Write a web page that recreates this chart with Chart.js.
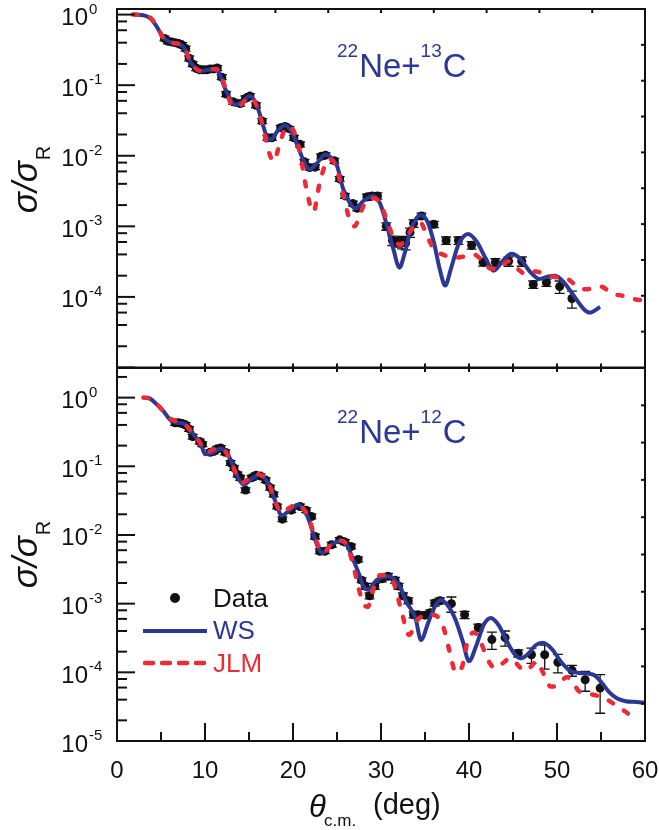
<!DOCTYPE html>
<html>
<head>
<meta charset="utf-8">
<script src="https://cdn.jsdelivr.net/npm/chart.js@4"></script>
<style>
  body { margin: 0; background: #fff; }
  #wrap { position: relative; width: 659px; height: 830px; }
  #wrap canvas { position: absolute; left: 0; }
</style>
</head>
<body>
<div id="wrap">
  <canvas id="topPanel" width="659" height="372" style="top:0"></canvas>
  <canvas id="bottomPanel" width="659" height="470" style="top:360px"></canvas>
</div>
<script>
// 22Ne + 13C angular distribution (upper panel)
const wsTopAngle = [2.0, 3.0, 3.8, 4.5, 5.2, 6.0, 6.8, 7.6, 8.2, 8.8, 9.5, 10.3, 11.0, 11.6, 12.2, 12.8, 13.4, 14.2, 15.1, 15.8,
  16.4, 17.0, 17.5, 18.2, 19.1, 19.9, 20.6, 21.2, 21.9, 22.7, 23.7, 24.4, 25.0, 25.7, 26.4, 27.1, 28.0, 29.1, 29.9, 30.6,
  31.4, 32.1, 32.7, 33.4, 34.5, 35.3, 36.0, 36.7, 37.3, 37.9, 38.8, 39.9, 40.9, 41.9, 42.8, 43.8, 44.8, 45.8, 46.9, 48.0,
  49.0, 49.8, 50.8, 52.0, 53.0, 53.7, 54.9];
const wsTopValue = [1.0, 0.98, 0.88, 0.68, 0.48, 0.41, 0.39, 0.34, 0.23, 0.18, 0.16, 0.165, 0.17, 0.15, 0.095, 0.066, 0.053, 0.058, 0.07, 0.055,
  0.033, 0.019, 0.017, 0.022, 0.027, 0.021, 0.013, 0.0085, 0.0064, 0.0078, 0.0104, 0.0092, 0.0072, 0.0034, 0.0022, 0.0018, 0.0023, 0.0027, 0.0021, 0.0011,
  4.8e-4, 2.6e-4, 4.2e-4, 9.0e-4, 1.45e-3, 1.15e-3, 6.0e-4, 2.4e-4, 1.45e-4, 2.4e-4, 5.5e-4, 7.8e-4, 6.0e-4, 3.5e-4, 2.35e-4, 3.2e-4, 4.1e-4, 3.5e-4, 2.3e-4, 1.8e-4,
  1.95e-4, 2.0e-4, 1.6e-4, 1.0e-4, 6.8e-5, 6.0e-5, 7.2e-5];

const jlmTopAngle = [1.8, 3.0, 3.8, 4.5, 5.2, 6.0, 6.8, 7.6, 8.2, 8.8, 9.5, 10.5, 11.3, 12.0, 12.6, 13.2, 14.0, 15.1, 15.9, 16.6,
  17.2, 17.8, 18.5, 19.3, 20.1, 20.8, 21.5, 22.3, 23.1, 24.1, 24.9, 25.7, 26.4, 27.0, 27.7, 28.5, 29.2, 30.0, 30.8, 31.5,
  32.2, 33.0, 34.4, 35.4, 36.2, 37.0, 38.3, 39.3, 40.5, 41.5, 42.5, 43.3, 44.5, 45.5, 46.5, 47.6, 49.0, 50.0, 51.2, 52.5,
  53.3, 55.0, 56.3, 57.3, 58.8, 60.0];
const jlmTopValue = [1.0, 0.99, 0.9, 0.7, 0.48, 0.40, 0.39, 0.35, 0.24, 0.18, 0.16, 0.165, 0.17, 0.12, 0.07, 0.05, 0.052, 0.068, 0.05, 0.025,
  0.012, 0.0083, 0.015, 0.026, 0.022, 0.011, 0.0035, 0.0016, 0.0045, 0.009, 0.007, 0.0028, 0.0013, 0.001, 0.0016, 0.0024, 0.0025, 0.002, 1.1e-3, 6.5e-4,
  5.5e-4, 7.5e-4, 1.15e-3, 6.5e-4, 4.5e-4, 4.0e-4, 3.6e-4, 3.7e-4, 4.0e-4, 3.3e-4, 2.5e-4, 2.5e-4, 3.2e-4, 2.5e-4, 2.1e-4, 2.3e-4, 2.0e-4, 1.9e-4, 1.8e-4, 1.35e-4,
  1.28e-4, 1.4e-4, 1.1e-4, 1.05e-4, 9.3e-5, 8.8e-5];

const dataTopAngle = [5.4, 5.8, 6.2, 6.6, 7.0, 7.4, 7.8, 8.2, 8.6, 9.0, 9.4, 9.8, 10.2, 10.6, 11.0, 11.4, 11.9, 12.4, 13.2, 14.0,
  14.6, 15.1, 15.8, 16.5, 17.1, 17.6, 18.6, 19.1, 19.6, 20.1, 20.8, 21.3, 21.9, 22.5, 23.2, 23.7, 24.7, 25.3, 25.9, 26.8,
  27.3, 28.4, 29.0, 29.6, 30.6, 31.3, 31.8, 32.4, 32.8, 33.3, 33.7, 34.6, 36.0, 37.4, 38.8, 40.3, 41.6, 43.0, 44.5, 46.0,
  47.3, 48.8, 50.3, 51.7];
const dataTopValue = [0.46, 0.42, 0.41, 0.40, 0.39, 0.37, 0.33, 0.24, 0.20, 0.175, 0.165, 0.165, 0.165, 0.17, 0.17, 0.175, 0.13, 0.075, 0.058, 0.055,
  0.065, 0.07, 0.052, 0.031, 0.018, 0.018, 0.025, 0.026, 0.024, 0.018, 0.0145, 0.0082, 0.0068, 0.0069, 0.0098, 0.0102, 0.0085, 0.0047, 0.0027, 0.0021,
  0.0018, 0.0026, 0.0027, 0.0027, 0.001, 6.3e-4, 6.0e-4, 6.0e-4, 5.8e-4, 8.2e-4, 1.1e-3, 1.4e-3, 1.07e-3, 6.3e-4, 6.3e-4, 5.4e-4, 3.1e-4, 3.1e-4, 3.2e-4, 3.2e-4,
  1.5e-4, 1.6e-4, 1.4e-4, 9.5e-5];
// relative errors
const dataTopError = [0.08, 0.08, 0.08, 0.08, 0.08, 0.08, 0.08, 0.08, 0.08, 0.08, 0.08, 0.08, 0.08, 0.08, 0.08, 0.08, 0.08, 0.08, 0.08, 0.08,
  0.08, 0.08, 0.08, 0.08, 0.08, 0.08, 0.08, 0.08, 0.08, 0.08, 0.08, 0.08, 0.08, 0.08, 0.08, 0.08, 0.08, 0.08, 0.08, 0.08,
  0.08, 0.1, 0.1, 0.1, 0.12, 0.15, 0.15, 0.2, 0.2, 0.15, 0.12, 0.1, 0.1, 0.12, 0.12, 0.12, 0.12, 0.12, 0.15, 0.15,
  0.12, 0.12, 0.2, 0.27];

// 22Ne + 12C angular distribution (lower panel)
const wsBottomAngle = [3.0, 3.8, 4.5, 5.3, 6.0, 6.8, 7.6, 8.3, 9.0, 9.5, 10.0, 10.8, 11.7, 12.3, 12.9, 13.6, 14.4, 15.2, 16.1, 16.9,
  17.4, 18.2, 18.7, 19.6, 20.6, 21.3, 21.7, 22.4, 23.0, 23.4, 24.2, 25.3, 26.1, 26.8, 27.5, 28.0, 28.5, 29.5, 30.8, 32.0,
  32.9, 33.4, 33.9, 34.55, 35.3, 36.0, 36.8, 37.7, 38.5, 39.3, 40.0, 40.8, 41.7, 42.5, 43.4, 44.2, 45.1, 45.9, 46.8, 47.6,
  48.4, 49.4, 50.5, 51.5, 52.5, 53.5, 54.3, 55.1, 55.9, 56.8, 57.8, 59.0, 60.0];
const wsBottomValue = [1.0, 0.96, 0.8, 0.63, 0.48, 0.43, 0.42, 0.33, 0.26, 0.22, 0.15, 0.155, 0.18, 0.17, 0.125, 0.075, 0.054, 0.064, 0.074, 0.064,
  0.05, 0.026, 0.019, 0.023, 0.0275, 0.022, 0.018, 0.0095, 0.006, 0.0055, 0.007, 0.0081, 0.0072, 0.0045, 0.0027, 0.0018, 0.0016, 0.0022, 0.0025, 0.0019,
  1.05e-3, 8.3e-4, 6.3e-4, 2.95e-4, 5.0e-4, 8.5e-4, 1.13e-3, 9.0e-4, 5.7e-4, 2.8e-4, 1.45e-4, 2.4e-4, 5.0e-4, 6.2e-4, 4.8e-4, 3.0e-4, 1.9e-4, 1.6e-4, 1.9e-4, 2.5e-4,
  2.7e-4, 2.2e-4, 1.4e-4, 1.05e-4, 9.8e-5, 9.6e-5, 9.0e-5, 7.0e-5, 5.2e-5, 4.2e-5, 3.8e-5, 3.7e-5, 3.6e-5];

const jlmBottomAngle = [3.0, 3.8, 4.5, 5.3, 6.0, 6.8, 7.6, 8.3, 9.0, 9.6, 10.2, 10.9, 11.7, 12.3, 12.9, 13.6, 14.3, 15.2, 16.0, 16.9,
  17.4, 18.1, 18.7, 19.6, 20.6, 21.3, 21.8, 22.4, 23.0, 23.5, 24.3, 25.3, 26.1, 26.8, 27.5, 28.1, 28.5, 29.1, 29.9, 30.7,
  31.5, 32.3, 33.2, 34.0, 34.6, 35.6, 36.4, 37.1, 37.8, 38.5, 39.2, 39.9, 40.6, 41.4, 42.3, 43.0, 43.8, 44.7, 45.5, 46.3,
  47.0, 47.7, 48.4, 49.3, 50.1, 51.1, 51.8, 52.5, 53.8, 55.2, 56.9, 58.5, 59.3];
const jlmBottomValue = [1.0, 0.97, 0.82, 0.62, 0.5, 0.45, 0.42, 0.34, 0.27, 0.2, 0.16, 0.175, 0.185, 0.165, 0.12, 0.075, 0.058, 0.07, 0.077, 0.066,
  0.05, 0.028, 0.021, 0.025, 0.028, 0.023, 0.018, 0.01, 0.0065, 0.0055, 0.0072, 0.0083, 0.0072, 0.0038, 0.0016, 9.5e-4, 9.0e-4, 1.6e-3, 2.6e-3, 2.6e-3,
  1.9e-3, 8.0e-4, 3.5e-4, 5.5e-4, 6.5e-4, 6.9e-4, 6.5e-4, 4.5e-4, 2.0e-4, 1.0e-4, 1.2e-4, 3.0e-4, 3.8e-4, 2.6e-4, 1.4e-4, 1.15e-4, 1.35e-4, 1.6e-4, 1.3e-4, 1.05e-4,
  1.2e-4, 1.45e-4, 1.0e-4, 6.2e-5, 6.5e-5, 8.5e-5, 7.2e-5, 5.3e-5, 4.8e-5, 4.3e-5, 3.2e-5, 2.3e-5, 2.0e-5];

const dataBottomAngle = [6.6, 7.0, 7.4, 7.8, 8.2, 8.6, 9.4, 9.7, 10.6, 11.0, 11.4, 11.8, 12.3, 12.9, 13.3, 13.7, 14.0, 14.6, 15.3, 15.8,
  16.3, 16.9, 17.4, 17.8, 18.2, 18.8, 19.8, 20.8, 21.5, 22.1, 22.5, 23.05, 23.6, 24.4, 25.3, 25.9, 26.6, 27.4, 27.8, 28.2,
  28.7, 29.3, 30.1, 30.8, 31.6, 32.0, 32.5, 33.1, 33.7, 34.2, 35.0, 35.6, 36.1, 36.7, 38.0, 39.5, 41.05, 42.6, 44.1, 45.6,
  47.1, 48.6, 50.1, 51.7, 53.2, 54.9];
const dataBottomValue = [0.43, 0.43, 0.42, 0.40, 0.35, 0.27, 0.23, 0.21, 0.16, 0.165, 0.18, 0.185, 0.16, 0.112, 0.095, 0.076, 0.068, 0.045, 0.068, 0.074,
  0.072, 0.063, 0.049, 0.039, 0.026, 0.017, 0.023, 0.026, 0.023, 0.0186, 0.0095, 0.0058, 0.0058, 0.0072, 0.0085, 0.0079, 0.0068, 0.0044, 0.0022, 0.0018,
  0.0013, 0.0018, 0.0023, 0.0025, 0.0022, 0.0018, 0.0013, 0.0011, 6.9e-4, 6.9e-4, 6.8e-4, 7.4e-4, 1.02e-3, 1.1e-3, 1.0e-3, 6.9e-4, 4.5e-4, 3.0e-4, 3.2e-4, 1.9e-4,
  1.8e-4, 1.8e-4, 1.4e-4, 1.07e-4, 7.8e-5, 5.9e-5];
const dataBottomError = [0.08, 0.08, 0.08, 0.08, 0.08, 0.08, 0.08, 0.08, 0.08, 0.08, 0.08, 0.08, 0.08, 0.08, 0.08, 0.08, 0.08, 0.08, 0.08, 0.08,
  0.08, 0.08, 0.08, 0.08, 0.08, 0.08, 0.08, 0.08, 0.08, 0.08, 0.08, 0.08, 0.08, 0.08, 0.08, 0.08, 0.08, 0.08, 0.08, 0.1,
  0.1, 0.1, 0.1, 0.1, 0.1, 0.1, 0.1, 0.1, 0.1, 0.1, 0.1, 0.1, 0.1, 0.1, 0.25, 0.12, 0.12, 0.28, 0.25, 0.12,
  0.25, 0.38, 0.3, 0.18, 0.32, 0.57];

const xTickLabels = [0, 10, 20, 30, 40, 50, 60];
const topDecades = [0, -1, -2, -3, -4];
const bottomDecades = [0, -1, -2, -3, -4, -5];

const FONT = '"Liberation Sans", Arial, sans-serif';
const BLUE = '#2c3894';
const RED = '#ec2b36';

function pairs(xs, ys) {
  return xs.map((x, i) => ({ x: x, y: ys[i] }));
}

function curve(label, xs, ys, color, dashed) {
  return {
    label: label,
    data: pairs(xs, ys),
    showLine: true,
    borderColor: color,
    borderWidth: dashed ? 4.5 : 4,
    borderDash: dashed ? [5, 13] : [],
    borderCapStyle: dashed ? 'round' : 'butt',
    borderJoinStyle: 'round',
    cubicInterpolationMode: 'monotone',
    pointRadius: 0,
    fill: false
  };
}

function points(xs, ys, errs) {
  return {
    label: 'Data',
    data: pairs(xs, ys),
    errors: errs,
    pointRadius: 4.5,
    pointBackgroundColor: '#111',
    pointBorderColor: '#111',
    pointBorderWidth: 0
  };
}

// vertical error bars with caps, drawn just before the data markers
const errorBars = {
  id: 'errorBars',
  beforeDatasetDraw(chart, args) {
    const ds = chart.data.datasets[args.index];
    if (!ds.errors) return;
    const ctx = chart.ctx;
    const ys = chart.scales.y;
    ctx.save();
    ctx.strokeStyle = '#111';
    ctx.lineWidth = 1.3;
    args.meta.data.forEach((pt, i) => {
      const v = ds.data[i].y;
      const r = ds.errors[i];
      const top = ys.getPixelForValue(v * (1 + r));
      const bot = ys.getPixelForValue(v * (1 - r));
      ctx.beginPath();
      ctx.moveTo(pt.x, top); ctx.lineTo(pt.x, bot);
      ctx.moveTo(pt.x - 5, top); ctx.lineTo(pt.x + 5, top);
      ctx.moveTo(pt.x - 5, bot); ctx.lineTo(pt.x + 5, bot);
      ctx.stroke();
    });
    ctx.restore();
  }
};

function line(ctx, x1, y1, x2, y2) {
  ctx.beginPath();
  ctx.moveTo(x1, y1);
  ctx.lineTo(x2, y2);
  ctx.stroke();
}

// frame, inward ticks, labels and texts of one panel
const panel = {
  id: 'panel',
  afterDraw(chart, args, o) {
    const ctx = chart.ctx;
    const a = chart.chartArea;
    const xs = chart.scales.x, ys = chart.scales.y;
    const P = v => v - o.offset;  // page y -> canvas y
    ctx.save();
    ctx.strokeStyle = '#111';
    ctx.fillStyle = '#111';
    ctx.lineWidth = 2;
    ctx.strokeRect(a.left, a.top, a.right - a.left, a.bottom - a.top);

    // left log axis: decades plus 2,4,6,8
    for (let e = -5; e <= 1; e++) {
      [1, 2, 4, 6, 8].forEach(m => {
        const v = m * Math.pow(10, e);
        if (v < ys.min || v > ys.max) return;
        const py = ys.getPixelForValue(v);
        line(ctx, a.left, py, a.left + (m === 1 ? 18 : 10), py);
      });
    }
    // right and top edges: ten equal divisions
    for (let k = 1; k < 10; k++) {
      const py = a.top + k * (a.bottom - a.top) / 10;
      line(ctx, a.right, py, a.right - 4, py);
      if (o.topTenths) {
        const px = a.left + k * (a.right - a.left) / 10;
        line(ctx, px, a.top, px, a.top + 4);
      }
    }
    // angle ticks every 5 degrees
    for (let t = 5; t < 60; t += 5) {
      const px = xs.getPixelForValue(t);
      if (o.bottomAxis) {
        line(ctx, px, a.bottom, px, a.bottom - (t % 10 === 0 ? 18 : 9));
      } else {
        line(ctx, px, a.bottom, px, a.bottom - 4);
      }
      if (!o.topTenths) line(ctx, px, a.top, px, a.top + 4);
    }

    // decade labels 10^n
    o.decades.forEach(d => {
      const py = ys.getPixelForValue(Math.pow(10, d));
      ctx.font = '24px ' + FONT;
      ctx.textAlign = 'right';
      ctx.textBaseline = 'alphabetic';
      ctx.fillText('10', 88, py + 10.5);
      ctx.font = '15px ' + FONT;
      ctx.textAlign = 'left';
      ctx.fillText(String(d), 89, py - 1);
    });

    if (o.bottomAxis) {
      ctx.font = '24px ' + FONT;
      ctx.textAlign = 'center';
      xTickLabels.forEach(t => ctx.fillText(String(t), xs.getPixelForValue(t), P(778)));
      ctx.textAlign = 'left';
      ctx.font = 'italic 31px ' + FONT;
      ctx.fillText('\u03b8', 309, P(817));
      ctx.font = '17px ' + FONT;
      ctx.fillText('c.m.', 324, P(826));
      ctx.font = '29px ' + FONT;
      ctx.fillText('(deg)', 373, P(814));
    }

    // y title: sigma / sigma_R, rotated
    ctx.save();
    ctx.translate(37, P(o.titleY));
    ctx.rotate(-Math.PI / 2);
    ctx.font = 'italic 35px ' + FONT;
    const w1 = ctx.measureText('\u03c3/\u03c3').width;
    ctx.font = '20px ' + FONT;
    const w2 = ctx.measureText('R').width;
    const x0 = -(w1 + w2) / 2;
    ctx.textAlign = 'left';
    ctx.font = 'italic 35px ' + FONT;
    ctx.fillText('\u03c3/\u03c3', x0, 0);
    ctx.font = '20px ' + FONT;
    ctx.fillText('R', x0 + w1 + 1, 13);
    ctx.restore();

    // reaction label
    ctx.fillStyle = BLUE;
    ctx.textAlign = 'left';
    let x = 337;
    const base = P(o.labelY);
    o.label.forEach(part => {
      ctx.font = (part.sup ? '19px ' : '33px ') + FONT;
      ctx.fillText(part.t, x, part.sup ? base - 20 : base);
      x += ctx.measureText(part.t).width + (part.sup ? 1 : 0);
    });

    if (o.legend) {
      ctx.fillStyle = '#111';
      ctx.beginPath();
      ctx.arc(175, P(598), 5, 0, Math.PI * 2);
      ctx.fill();
      ctx.font = '26px ' + FONT;
      ctx.fillText('Data', 213, P(607));
      ctx.lineWidth = 4;
      ctx.strokeStyle = BLUE;
      line(ctx, 143, P(631), 207, P(631));
      ctx.fillStyle = BLUE;
      ctx.fillText('WS', 213, P(639));
      ctx.strokeStyle = RED;
      ctx.lineWidth = 4.5;
      ctx.lineCap = 'round';
      ctx.setLineDash([8, 9]);
      line(ctx, 145, P(663), 205, P(663));
      ctx.setLineDash([]);
      ctx.fillStyle = RED;
      ctx.fillText('JLM', 213, P(672));
    }
    ctx.restore();
  }
};

function makeChart(id, datasets, yMax, padding, panelOpts) {
  return new Chart(document.getElementById(id), {
    type: 'scatter',
    data: { datasets: datasets },
    options: {
      responsive: false,
      animation: false,
      events: [],
      layout: { padding: padding },
      plugins: { legend: { display: false }, tooltip: { enabled: false }, panel: panelOpts },
      scales: {
        x: { type: 'linear', min: 0, max: 60, display: false },
        y: { type: 'logarithmic', min: 1e-5, max: yMax, display: false }
      }
    },
    plugins: [errorBars, panel]
  });
}

makeChart('topPanel', [
  curve('JLM', jlmTopAngle, jlmTopValue, RED, true),
  curve('WS', wsTopAngle, wsTopValue, BLUE, false),
  points(dataTopAngle, dataTopValue, dataTopError)
], 1.2, { left: 117, right: 14, top: 9, bottom: 4 }, {
  offset: 0, topTenths: true, bottomAxis: false, decades: topDecades,
  titleY: 180, labelY: 77, legend: false,
  label: [{ t: '22', sup: true }, { t: 'Ne+', sup: false }, { t: '13', sup: true }, { t: 'C', sup: false }]
});

makeChart('bottomPanel', [
  curve('JLM', jlmBottomAngle, jlmBottomValue, RED, true),
  curve('WS', wsBottomAngle, wsBottomValue, BLUE, false),
  points(dataBottomAngle, dataBottomValue, dataBottomError)
], 2.7, { left: 117, right: 14, top: 8, bottom: 89 }, {
  offset: 360, topTenths: false, bottomAxis: true, decades: bottomDecades,
  titleY: 555, labelY: 443, legend: true,
  label: [{ t: '22', sup: true }, { t: 'Ne+', sup: false }, { t: '12', sup: true }, { t: 'C', sup: false }]
});
</script>
</body>
</html>
